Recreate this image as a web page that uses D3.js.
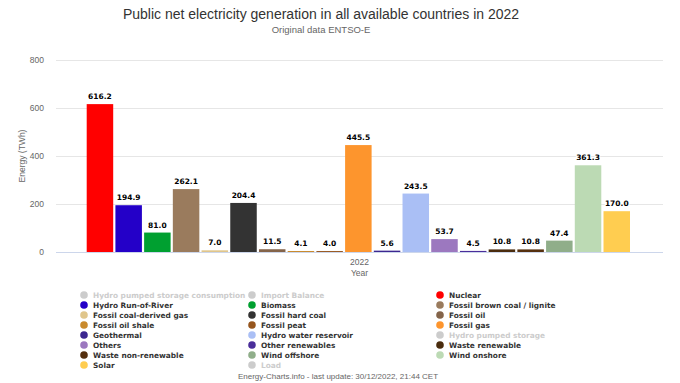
<!DOCTYPE html>
<html><head><meta charset="utf-8">
<script src="https://cdn.jsdelivr.net/npm/d3@7"></script>
<style>body{margin:0;background:#fff}svg{display:block}</style>
</head><body><svg id="c" width="680" height="383"></svg>
<script>
// Bars (visible series), in drawing order
const barNames = ["Nuclear","Hydro Run-of-River","Biomass","Fossil brown coal / lignite","Fossil coal-derived gas","Fossil hard coal","Fossil oil","Fossil oil shale","Fossil peat","Fossil gas","Geothermal","Hydro water reservoir","Others","Other renewables","Waste renewable","Waste non-renewable","Wind offshore","Wind onshore","Solar"];
const barValues = [616.2,194.9,81.0,262.1,7.0,204.4,11.5,4.1,4.0,445.5,5.6,243.5,53.7,4.5,10.8,10.8,47.4,361.3,170.0];
const barColors = ["#ff0000","#2400c8","#00a030","#9a7b5d","#e0c68c","#333333","#84644a","#c98a2c","#96561e","#fd952d","#3c2790","#aabff5","#9c78bf","#4a2e9a","#4a2c0e","#55300f","#90ae8a","#bcdab4","#ffcd50"];
// Legend entries (row-major, 3 columns)
const legendNames = ["Hydro pumped storage consumption","Import Balance","Nuclear","Hydro Run-of-River","Biomass","Fossil brown coal / lignite","Fossil coal-derived gas","Fossil hard coal","Fossil oil","Fossil oil shale","Fossil peat","Fossil gas","Geothermal","Hydro water reservoir","Hydro pumped storage","Others","Other renewables","Waste renewable","Waste non-renewable","Wind offshore","Wind onshore","Solar","Load"];
const hiddenNames = ["Hydro pumped storage consumption","Import Balance","Hydro pumped storage","Load"];
const yTicks = [0,200,400,600,800];
const category = "2022";

const svg = d3.select("#c");
const font = "'Liberation Sans', Arial, sans-serif";
const bold = "'DejaVu Sans', Verdana, sans-serif";
const plot = {l:56, r:663, t:60, b:252};

const y = d3.scaleLinear().domain([0,800]).range([plot.b, plot.t]);
const x = d3.scaleBand().domain(barNames).range([86.7, 630]).paddingInner(0.077).paddingOuter(0);

// title
svg.append("text").attr("x",321).attr("y",19).attr("text-anchor","middle")
  .attr("font-family",font).attr("font-size",14).attr("fill","#333")
  .text("Public net electricity generation in all available countries in 2022");
svg.append("text").attr("x",321).attr("y",33).attr("text-anchor","middle")
  .attr("font-family",font).attr("font-size",9.5).attr("fill","#666")
  .text("Original data ENTSO-E");

// grid
const yAxis = svg.append("g").attr("transform",`translate(${plot.l},0)`)
  .call(d3.axisLeft(y).tickValues(yTicks).tickSize(-(plot.r-plot.l)).tickFormat(d3.format("d")));
yAxis.select(".domain").remove();
yAxis.selectAll(".tick line").attr("stroke","#e6e6e6");
yAxis.selectAll(".tick text").attr("x",-12).attr("font-family",font).attr("font-size",8.5).attr("fill","#666");
svg.append("line").attr("x1",plot.l).attr("x2",plot.r).attr("y1",plot.b+0.5).attr("y2",plot.b+0.5).attr("stroke","#ccd6eb");

svg.append("text").attr("transform",`translate(25,${(plot.t+plot.b)/2}) rotate(-90)`)
  .attr("text-anchor","middle").attr("font-family",font).attr("font-size",8.5).attr("fill","#666")
  .text("Energy (TWh)");

// bars
svg.append("g").selectAll("rect").data(barNames).join("rect")
  .attr("x",d=>x(d)).attr("width",x.bandwidth())
  .attr("y",(d,i)=>y(barValues[i])).attr("height",(d,i)=>plot.b - y(barValues[i]))
  .attr("fill",(d,i)=>barColors[i]);
svg.append("g").selectAll("text").data(barNames).join("text")
  .attr("x",d=>x(d)+x.bandwidth()/2).attr("y",(d,i)=>y(barValues[i])-5)
  .attr("text-anchor","middle").attr("font-family",bold)
  .attr("font-weight","bold").attr("font-size",7.5).attr("fill","#000")
  .attr("stroke","#fff").attr("stroke-width",2).attr("paint-order","stroke")
  .text((d,i)=>barValues[i].toFixed(1));

// x axis category
const xc = d3.scaleBand().domain([category]).range([plot.l, plot.r]);
const xAxis = svg.append("g").attr("transform",`translate(0,${plot.b})`).call(d3.axisBottom(xc).tickSize(0));
xAxis.select(".domain").remove();
xAxis.selectAll(".tick text").attr("dy",0).attr("y",13).attr("font-family",font).attr("font-size",8.5).attr("fill","#666");
svg.append("text").attr("x",(plot.l+plot.r)/2).attr("y",276).attr("text-anchor","middle")
  .attr("font-family",font).attr("font-size",8.5).attr("fill","#666").text("Year");

// legend
const colX = [84, 252, 440];
const leg = svg.append("g");
const colorOf = n => { const i = barNames.indexOf(n); return i>=0 ? barColors[i] : "#cccccc"; };
legendNames.forEach((n,i)=>{
  const cx = colX[i%3], cy = 295 + Math.floor(i/3)*10;
  const hid = hiddenNames.includes(n);
  leg.append("circle").attr("cx",cx).attr("cy",cy).attr("r",3.8).attr("fill",hid?"#cccccc":colorOf(n));
  leg.append("text").attr("x",cx+9).attr("y",cy+3).attr("font-family",bold)
    .attr("font-weight","bold").attr("font-size",7.4).attr("fill",hid?"#cccccc":"#333").text(n);
});

svg.append("text").attr("x",338).attr("y",379).attr("text-anchor","middle")
  .attr("font-family",font).attr("font-size",8).attr("fill","#666")
  .text("Energy-Charts.info - last update: 30/12/2022, 21:44 CET");
</script></body></html>
